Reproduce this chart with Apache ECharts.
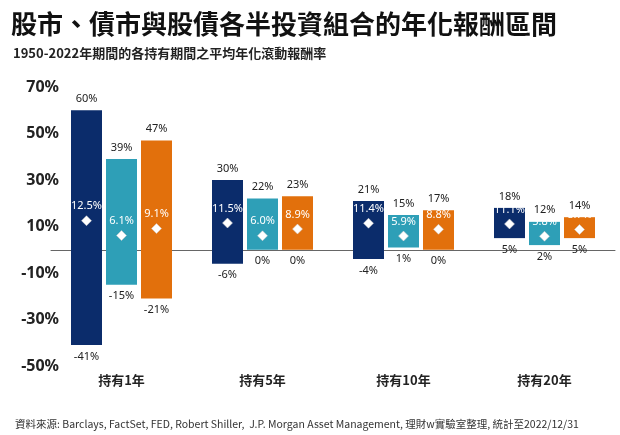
<!DOCTYPE html>
<html><head><meta charset="utf-8">
<script src="https://cdn.jsdelivr.net/npm/echarts@6/dist/echarts.min.js"></script>
<style>html,body{margin:0;padding:0;background:#fff}#c{width:620px;height:435px}</style>
</head><body><div id="c"></div>
<script>
const categories = ['持有1年','持有5年','持有10年','持有20年'];
const stockMax = [60,30,21,18];
const stockMin = [-41,-6,-4,5];
const stockAvg = [12.5,11.5,11.4,11.1];
const bondMax = [39,22,15,12];
const bondMin = [-15,0,1,2];
const bondAvg = [6.1,6.0,5.9,5.8];
const mixMax = [47,23,17,14];
const mixMin = [-21,0,0,5];
const mixAvg = [9.1,8.9,8.8,8.7];
const yTicks = [-50,-30,-10,10,30,50,70];

const colors = ['#0b2c6b','#2e9fb7','#e2700c'];
const groups = [[stockMin,stockMax,stockAvg],[bondMin,bondMax,bondAvg],[mixMin,mixMax,mixAvg]];
const BW = 31, GAP = 35;

function fmtAvg(v){return v.toFixed(1)+'%';}
const series = groups.map((g,si)=>({
  type:'custom',
  data: categories.map((c,i)=>[i,g[0][i],g[1][i],g[2][i]]),
  renderItem:(params,api)=>{
    const i=api.value(0);
    const off=(si-1)*GAP;
    const top=api.coord([i,api.value(2)]);
    const bot=api.coord([i,api.value(1)]);
    const avg=api.coord([i,api.value(3)]);
    const x=top[0]+off;
    return {type:'group',children:[
      {type:'rect',shape:{x:x-BW/2,y:top[1],width:BW,height:bot[1]-top[1]},style:{fill:colors[si]}},
      {type:'text',style:{text:api.value(2)+'%',x:x,y:top[1]-6,textAlign:'center',textVerticalAlign:'bottom',fill:'#222',font:'11px "Noto Sans"'}},
      {type:'text',style:{text:api.value(1)+'%',x:x,y:bot[1]+6,textAlign:'center',textVerticalAlign:'top',fill:'#222',font:'11px "Noto Sans"'}},
      {type:'polygon',shape:{points:[[x,avg[1]-5],[x+5,avg[1]],[x,avg[1]+5],[x-5,avg[1]]]},style:{fill:'#fff',stroke:'#ccc',lineWidth:0.5}},
      {type:'text',style:{text:fmtAvg(api.value(3)),x:x,y:avg[1]-9,textAlign:'center',textVerticalAlign:'bottom',fill:'#fff',font:'11px "Noto Sans"'}}
    ]};
  }
}));

const chart = echarts.init(document.getElementById('c'));
chart.setOption({
  animation:false,
  title:[
    {text:'股市、債市與股債各半投資組合的年化報酬區間',left:6,top:6,textStyle:{fontSize:26,fontWeight:'bold',color:'#111',fontFamily:'Noto Sans CJK TC'}},
    {text:'1950-2022年期間的各持有期間之平均年化滾動報酬率',left:8,top:42,textStyle:{fontSize:13,fontWeight:'bold',color:'#222',fontFamily:'Noto Sans CJK TC'}},
    {text:'資料來源: Barclays, FactSet, FED, Robert Shiller,  J.P. Morgan Asset Management, 理財w實驗室整理, 統計至2022/12/31',left:10,top:414,textStyle:{fontSize:10.5,fontWeight:'normal',color:'#333',fontFamily:'Noto Sans CJK TC'}}
  ],
  grid:{left:51,right:5,top:87,bottom:69},
  xAxis:{type:'category',data:categories,axisTick:{show:false},axisLine:{show:true,onZero:true,lineStyle:{color:'#666'}},
    axisLabel:{show:false}},
  yAxis:{type:'value',min:-50,max:70,interval:20,splitLine:{show:false},axisLine:{show:false},axisTick:{show:false},
    axisLabel:{margin:-8,formatter:v=>yTicks.includes(v)?v+'%':'',color:'#222',fontSize:16,fontWeight:'bold',fontFamily:'Noto Sans'}},
  series:series
});
chart.setOption({graphic:categories.map((c,i)=>{
  const p=chart.convertToPixel({xAxisIndex:0,yAxisIndex:0},[i,-50]);
  return {type:'text',x:p[0],y:p[1]+8,style:{text:c,textAlign:'center',fill:'#222',font:'bold 13px "Noto Sans CJK TC"'}};
})});
</script></body></html>
